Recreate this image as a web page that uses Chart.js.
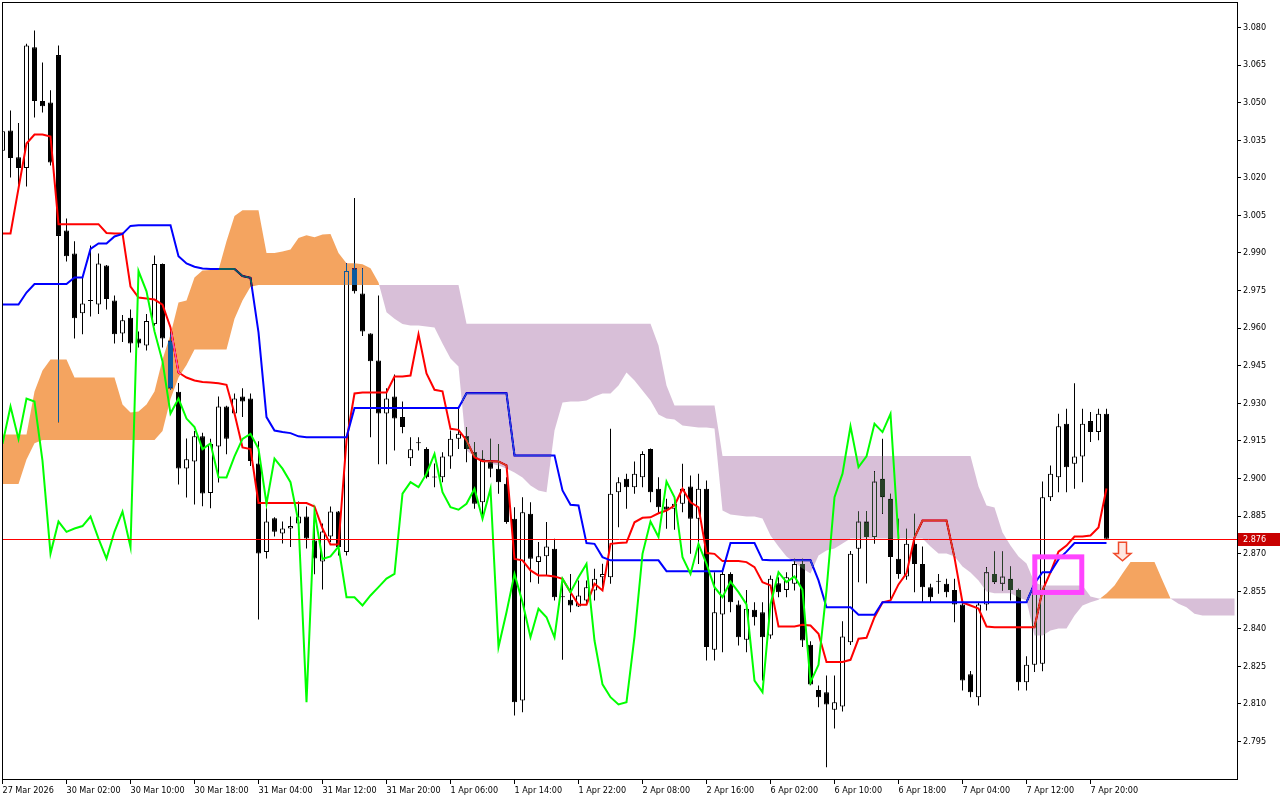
<!DOCTYPE html>
<html>
<head>
<meta charset="utf-8">
<title>Ichimoku H1</title>
<script src="https://cdn.jsdelivr.net/npm/chart.js@4.4.1/dist/chart.umd.min.js"></script>
<style>
    html, body { margin: 0; padding: 0; background: #ffffff; }
    canvas { display: block; }
</style>
</head>
<body>
<canvas id="ichimokuChart" width="1280" height="800"></canvas>
<script>
// H1 bars, oldest first (bar 0 = 27 Mar 2026)
const openPrices = [
    3.0308, 3.0389, 3.0282, 3.0239, 3.0721, 3.0507, 3.0501, 3.0690, 2.9990, 2.9898,
    2.9659, 2.9712, 2.9694, 2.9850, 2.9710, 2.9579, 2.9641, 2.9559, 2.9531, 2.9616,
    2.9856, 2.9551, 2.9346, 2.9040, 2.9068, 2.9168, 2.8942, 2.9128, 2.9287, 2.9259,
    2.9327, 2.9319, 2.9060, 2.8706, 2.8841, 2.8780, 2.8800, 2.8820, 2.8848, 2.8752,
    2.8668, 2.8768, 2.8868, 2.8706, 2.9839, 2.9738, 2.9579, 2.9471, 2.9259, 2.9327,
    2.9245, 2.9081, 2.9144, 2.9118, 2.9008, 2.9005, 2.9088, 2.9158, 2.9168, 2.9105,
    2.8905, 2.9065, 2.9039, 2.8979, 2.8839, 2.8114, 2.8859, 2.8666, 2.8689, 2.8719,
    2.8530, 2.8516, 2.8489, 2.8513, 2.8553, 2.8606, 2.8606, 2.8945, 2.8999, 2.8965,
    2.9005, 2.9118, 2.8959, 2.8888, 2.8879, 2.8899, 2.8968, 2.8839, 2.8959, 2.8316,
    2.8457, 2.8619, 2.8497, 2.8356, 2.8476, 2.8466, 2.8373, 2.8582, 2.8555, 2.8580,
    2.8659, 2.8336, 2.8156, 2.8147, 2.8077, 2.8090, 2.8346, 2.8719, 2.8828, 2.8766,
    2.8999, 2.8919, 2.8679, 2.8609, 2.8739, 2.8659, 2.8566, 2.8592, 2.8580, 2.8555,
    2.8497, 2.8218, 2.8127, 2.8497, 2.8619, 2.8580, 2.8600, 2.8555, 2.8187, 2.8256,
    2.8260, 2.8925, 2.9005, 2.9218, 2.9059, 2.9088, 2.9229, 2.9185, 2.9258
];
const highPrices = [
    3.0409, 3.0469, 3.0419, 3.0735, 3.0788, 3.0660, 3.0550, 3.0728, 3.0038, 2.9947,
    2.9802, 2.9930, 2.9898, 2.9852, 2.9730, 2.9652, 2.9674, 2.9587, 2.9656, 2.9890,
    2.9858, 2.9588, 2.9381, 2.9159, 2.9189, 2.9182, 2.9158, 2.9327, 2.9290, 2.9339,
    2.9360, 2.9339, 2.9148, 2.8881, 2.8845, 2.8828, 2.8848, 2.8908, 2.8888, 2.8840,
    2.8820, 2.8888, 2.8870, 2.9859, 3.0119, 2.9839, 2.9580, 2.9730, 2.9360, 2.9415,
    2.9307, 2.9164, 2.9164, 2.9125, 2.9060, 2.9105, 2.9191, 2.9278, 2.9205, 2.9145,
    2.9112, 2.9158, 2.9138, 2.9005, 2.8885, 2.8925, 2.8905, 2.8746, 2.8826, 2.8759,
    2.8600, 2.8619, 2.8593, 2.8593, 2.8640, 2.8660, 2.9198, 2.9005, 2.9019, 2.9068,
    2.9109, 2.9120, 2.9005, 2.8919, 2.8920, 2.9059, 2.9012, 2.9019, 2.8992, 2.8626,
    2.8640, 2.8626, 2.8513, 2.8555, 2.8506, 2.8506, 2.8613, 2.8606, 2.8626, 2.8679,
    2.8679, 2.8350, 2.8174, 2.8213, 2.8213, 2.8430, 2.8710, 2.8868, 2.8870, 2.9029,
    2.9158, 2.8939, 2.8839, 2.8799, 2.8859, 2.8728, 2.8580, 2.8619, 2.8600, 2.8600,
    2.8506, 2.8231, 2.8506, 2.8646, 2.8708, 2.8708, 2.8649, 2.8560, 2.8290, 2.8570,
    2.8988, 2.9052, 2.9258, 2.9278, 2.9380, 2.9278, 2.9265, 2.9278, 2.9278
];
const lowPrices = [
    3.0289, 3.0201, 3.0172, 3.0165, 3.0441, 3.0461, 3.0249, 2.9224, 2.9866, 2.9559,
    2.9576, 2.9646, 2.9656, 2.9674, 2.9539, 2.9545, 2.9503, 2.9523, 2.9511, 2.9610,
    2.9523, 2.9353, 2.8976, 2.8924, 2.8896, 2.8889, 2.8881, 2.8984, 2.9097, 2.9250,
    2.9245, 2.9050, 2.8437, 2.8680, 2.8768, 2.8740, 2.8726, 2.8774, 2.8720, 2.8618,
    2.8557, 2.8746, 2.8692, 2.8692, 2.9738, 2.9569, 2.9164, 2.9057, 2.9057, 2.9112,
    2.9180, 2.9050, 2.9112, 2.9000, 2.8965, 2.8985, 2.9039, 2.9118, 2.9065, 2.8879,
    2.8852, 2.9005, 2.8939, 2.8819, 2.8054, 2.8067, 2.8586, 2.8580, 2.8613, 2.8513,
    2.8276, 2.8466, 2.8487, 2.8501, 2.8513, 2.8566, 2.8580, 2.8805, 2.8879, 2.8939,
    2.8965, 2.8905, 2.8859, 2.8799, 2.8795, 2.8865, 2.8699, 2.8659, 2.8273, 2.8273,
    2.8306, 2.8466, 2.8333, 2.8306, 2.8413, 2.8193, 2.8360, 2.8526, 2.8526, 2.8553,
    2.8327, 2.8175, 2.8087, 2.7847, 2.8002, 2.8070, 2.8335, 2.8586, 2.8581, 2.8739,
    2.8859, 2.8513, 2.8600, 2.8596, 2.8546, 2.8506, 2.8506, 2.8540, 2.8526, 2.8426,
    2.8154, 2.8127, 2.8094, 2.8473, 2.8580, 2.8553, 2.8513, 2.8154, 2.8154, 2.8227,
    2.8230, 2.8910, 2.8945, 2.8945, 2.8959, 2.8985, 2.9145, 2.9152, 2.8759
];
const closePrices = [
    3.0386, 3.0279, 3.0239, 3.0728, 3.0507, 3.0486, 3.0261, 2.9968, 2.9887, 2.9639,
    2.9698, 2.9708, 2.9858, 2.9716, 2.9576, 2.9631, 2.9539, 2.9539, 2.9628, 2.9856,
    2.9559, 2.9359, 2.9040, 2.9077, 2.9168, 2.8940, 2.9138, 2.9287, 2.9158, 2.9319,
    2.9307, 2.9070, 2.8700, 2.8828, 2.8787, 2.8800, 2.8810, 2.8848, 2.8760, 2.8680,
    2.8788, 2.8868, 2.8726, 2.9828, 2.9747, 2.9587, 2.9468, 2.9259, 2.9319, 2.9239,
    2.9205, 2.9117, 2.9140, 2.9005, 2.9004, 2.9088, 2.9158, 2.9178, 2.9118, 2.8899,
    2.9079, 2.9039, 2.8985, 2.8826, 2.8107, 2.8865, 2.8679, 2.8689, 2.8728, 2.8526,
    2.8526, 2.8493, 2.8533, 2.8566, 2.8600, 2.8619, 2.8939, 2.8985, 2.8965, 2.9019,
    2.9098, 2.8945, 2.8885, 2.8875, 2.8899, 2.8959, 2.8839, 2.8959, 2.8327, 2.8466,
    2.8619, 2.8506, 2.8366, 2.8480, 2.8446, 2.8366, 2.8600, 2.8546, 2.8606, 2.8659,
    2.8353, 2.8178, 2.8127, 2.8098, 2.8107, 2.8369, 2.8699, 2.8828, 2.8766, 2.8988,
    2.8925, 2.8686, 2.8619, 2.8739, 2.8659, 2.8566, 2.8526, 2.8588, 2.8546, 2.8497,
    2.8193, 2.8147, 2.8497, 2.8626, 2.8586, 2.8609, 2.8555, 2.8187, 2.8256, 2.8553,
    2.8925, 2.9019, 2.9208, 2.9045, 2.9088, 2.9218, 2.9185, 2.9258, 2.8759
];

// Tenkan-sen (red) and Kijun-sen (blue), one value per bar
const tenkanLine = [
    2.9978, 2.9978, 3.0158, 3.0337, 3.0373, 3.0373, 3.0365, 3.0015, 3.0015, 3.0015,
    3.0015, 3.0015, 3.0015, 2.9980, 2.9978, 2.9978, 2.9766, 2.9722, 2.9718, 2.9714,
    2.9694, 2.9603, 2.9423, 2.9403, 2.9391, 2.9385, 2.9383, 2.9380, 2.9374, 2.9259,
    2.9124, 2.9117, 2.8902, 2.8902, 2.8902, 2.8902, 2.8902, 2.8902, 2.8902, 2.8888,
    2.8800, 2.8736, 2.8736, 2.9152, 2.9339, 2.9343, 2.9343, 2.9343, 2.9343, 2.9407,
    2.9407, 2.9411, 2.9575, 2.9419, 2.9354, 2.9348, 2.9198, 2.9194, 2.9152, 2.9085,
    2.9069, 2.9069, 2.9068, 2.9052, 2.8679, 2.8673, 2.8633, 2.8613, 2.8613, 2.8609,
    2.8599, 2.8546, 2.8496, 2.8496, 2.8580, 2.8553, 2.8739, 2.8742, 2.8744, 2.8825,
    2.8843, 2.8845, 2.8861, 2.8872, 2.8892, 2.8959, 2.8905, 2.8885, 2.8702, 2.8699,
    2.8670, 2.8670, 2.8670, 2.8666, 2.8646, 2.8586, 2.8573, 2.8409, 2.8409, 2.8409,
    2.8416, 2.8413, 2.8380, 2.8267, 2.8267, 2.8267, 2.8276, 2.8360, 2.8364, 2.8446,
    2.8505, 2.8513, 2.8577, 2.8621, 2.8764, 2.8832, 2.8832, 2.8832, 2.8832, 2.8684,
    2.8505, 2.8493, 2.8481, 2.8409, 2.8406, 2.8406, 2.8406, 2.8406, 2.8406, 2.8406,
    2.8553, 2.8625, 2.8708, 2.8732, 2.8768, 2.8768, 2.8772, 2.8804, 2.8960
];
const kijunLine = [
    2.9694, 2.9694, 2.9694, 2.9742, 2.9776, 2.9776, 2.9776, 2.9776, 2.9776, 2.9802,
    2.9802, 2.9916, 2.9938, 2.9938, 2.9966, 2.9976, 3.0008, 3.0011, 3.0011, 3.0011,
    3.0011, 3.0011, 2.9887, 2.9858, 2.9845, 2.9838, 2.9836, 2.9836, 2.9836, 2.9836,
    2.9808, 2.9801, 2.9583, 2.9245, 2.9191, 2.9185, 2.9181, 2.9168, 2.9164, 2.9164,
    2.9164, 2.9164, 2.9164, 2.9164, 2.9281, 2.9281, 2.9281, 2.9281, 2.9281, 2.9281,
    2.9281, 2.9281, 2.9281, 2.9281, 2.9281, 2.9281, 2.9281, 2.9281, 2.9340, 2.9340,
    2.9340, 2.9340, 2.9340, 2.9340, 2.9092, 2.9092, 2.9092, 2.9092, 2.9092, 2.9092,
    2.8952, 2.8895, 2.8892, 2.8742, 2.8739, 2.8686, 2.8673, 2.8673, 2.8673, 2.8673,
    2.8673, 2.8673, 2.8673, 2.8630, 2.8630, 2.8630, 2.8630, 2.8630, 2.8630, 2.8630,
    2.8630, 2.8742, 2.8742, 2.8742, 2.8742, 2.8675, 2.8673, 2.8673, 2.8673, 2.8673,
    2.8673, 2.8673, 2.8593, 2.8486, 2.8486, 2.8486, 2.8486, 2.8456, 2.8456, 2.8456,
    2.8506, 2.8506, 2.8506, 2.8506, 2.8506, 2.8506, 2.8506, 2.8506, 2.8506, 2.8506,
    2.8506, 2.8506, 2.8506, 2.8506, 2.8506, 2.8506, 2.8506, 2.8506, 2.8506, 2.8581,
    2.8626, 2.8626, 2.8677, 2.8708, 2.8742, 2.8742, 2.8742, 2.8742, 2.8742
];
// Chikou span (green), drawn 26 bars back
const chikouLine = [
    2.9138, 2.9287, 2.9158, 2.9319, 2.9307, 2.9070, 2.8700, 2.8828, 2.8787, 2.8800,
    2.8810, 2.8848, 2.8760, 2.8680, 2.8788, 2.8868, 2.8726, 2.9828, 2.9747, 2.9587,
    2.9468, 2.9259, 2.9319, 2.9239, 2.9205, 2.9117, 2.9140, 2.9005, 2.9004, 2.9088,
    2.9158, 2.9178, 2.9118, 2.8899, 2.9079, 2.9039, 2.8985, 2.8826, 2.8107, 2.8865,
    2.8679, 2.8689, 2.8728, 2.8526, 2.8526, 2.8493, 2.8533, 2.8566, 2.8600, 2.8619,
    2.8939, 2.8985, 2.8965, 2.9019, 2.9098, 2.8945, 2.8885, 2.8875, 2.8899, 2.8959,
    2.8839, 2.8959, 2.8327, 2.8466, 2.8619, 2.8506, 2.8366, 2.8480, 2.8446, 2.8366,
    2.8600, 2.8546, 2.8606, 2.8659, 2.8353, 2.8178, 2.8127, 2.8098, 2.8107, 2.8369,
    2.8699, 2.8828, 2.8766, 2.8988, 2.8925, 2.8686, 2.8619, 2.8739, 2.8659, 2.8566,
    2.8526, 2.8588, 2.8546, 2.8497, 2.8193, 2.8147, 2.8497, 2.8626, 2.8586, 2.8609,
    2.8555, 2.8187, 2.8256, 2.8553, 2.8925, 2.9019, 2.9208, 2.9045, 2.9088, 2.9218,
    2.9185, 2.9258, 2.8759
];
// Senkou spans (cloud), already shifted 26 bars forward
const senkouA = [
    2.9175, 2.9175, 2.9175, 2.9175, 2.9347, 2.9431, 2.9475, 2.9475, 2.9475, 2.9403,
    2.9403, 2.9403, 2.9403, 2.9403, 2.9403, 2.9295, 2.9263, 2.9267, 2.9295, 2.9347,
    2.9475, 2.9575, 2.9702, 2.9710, 2.9802, 2.9830, 2.9832, 2.9832, 2.9947, 3.0048,
    3.0071, 3.0071, 3.0071, 2.9900, 2.9900, 2.9906, 2.9914, 2.9960, 2.9971, 2.9963,
    2.9974, 2.9976, 2.9900, 2.9859, 2.9859, 2.9855, 2.9839, 2.9782, 2.9663, 2.9637,
    2.9616, 2.9611, 2.9611, 2.9607, 2.9603, 2.9539, 2.9479, 2.9447, 2.9112, 2.9088,
    2.9072, 2.9060, 2.9052, 2.9040, 2.9024, 2.9004, 2.8972, 2.8952, 2.8945, 2.9191,
    2.9303, 2.9307, 2.9307, 2.9311, 2.9327, 2.9339, 2.9339, 2.9371, 2.9423, 2.9391,
    2.9351, 2.9311, 2.9255, 2.9239, 2.9235, 2.9211, 2.9207, 2.9203, 2.9203, 2.9199,
    2.8872, 2.8856, 2.8852, 2.8848, 2.8848, 2.8840, 2.8772, 2.8728, 2.8688, 2.8665,
    2.8641, 2.8621, 2.8692, 2.8712, 2.8720, 2.8740, 2.8760, 2.8760, 2.8760, 2.8760,
    2.8760, 2.8760, 2.8760, 2.8760, 2.8760, 2.8760, 2.8728, 2.8700, 2.8700, 2.8688,
    2.8649, 2.8625, 2.8593, 2.8549, 2.8542, 2.8542, 2.8542, 2.8526, 2.8513, 2.8373,
    2.8373, 2.8393, 2.8401, 2.8401, 2.8453, 2.8493, 2.8506, 2.8516, 2.8541, 2.8573,
    2.8621, 2.8666, 2.8666, 2.8666, 2.8666, 2.8593, 2.8521, 2.8500, 2.8486, 2.8460,
    2.8453, 2.8453, 2.8453, 2.8453, 2.8453
];
const senkouB = [
    2.8978, 2.8978, 2.8978, 2.9076, 2.9140, 2.9153, 2.9153, 2.9153, 2.9153, 2.9153,
    2.9153, 2.9153, 2.9153, 2.9153, 2.9153, 2.9153, 2.9153, 2.9153, 2.9153, 2.9153,
    2.9189, 2.9317, 2.9403, 2.9453, 2.9515, 2.9515, 2.9515, 2.9515, 2.9515, 2.9637,
    2.9710, 2.9765, 2.9772, 2.9772, 2.9772, 2.9772, 2.9772, 2.9772, 2.9772, 2.9772,
    2.9772, 2.9772, 2.9772, 2.9772, 2.9772, 2.9772, 2.9772, 2.9772, 2.9772, 2.9772,
    2.9772, 2.9772, 2.9772, 2.9772, 2.9772, 2.9772, 2.9772, 2.9772, 2.9617, 2.9617,
    2.9617, 2.9617, 2.9617, 2.9617, 2.9617, 2.9617, 2.9617, 2.9617, 2.9617, 2.9617,
    2.9617, 2.9617, 2.9617, 2.9617, 2.9617, 2.9617, 2.9617, 2.9617, 2.9617, 2.9617,
    2.9617, 2.9617, 2.9531, 2.9371, 2.9291, 2.9291, 2.9291, 2.9291, 2.9291, 2.9291,
    2.9090, 2.9090, 2.9090, 2.9090, 2.9090, 2.9090, 2.9090, 2.9090, 2.9090, 2.9090,
    2.9090, 2.9090, 2.9090, 2.9090, 2.9090, 2.9090, 2.9090, 2.9090, 2.9090, 2.9090,
    2.9090, 2.9090, 2.9090, 2.9090, 2.9090, 2.9090, 2.9090, 2.9090, 2.9090, 2.9090,
    2.9090, 2.9090, 2.8968, 2.8892, 2.8884, 2.8784, 2.8732, 2.8688, 2.8661, 2.8585,
    2.8573, 2.8573, 2.8573, 2.8573, 2.8573, 2.8573, 2.8529, 2.8521, 2.8521, 2.8521,
    2.8521, 2.8521, 2.8521, 2.8521, 2.8521, 2.8521, 2.8521, 2.8521, 2.8521, 2.8521,
    2.8521, 2.8521, 2.8521, 2.8521, 2.8521
];

// time axis: one label every 8 bars
const timeLabels = [
    '27 Mar 2026', '30 Mar 02:00', '30 Mar 10:00', '30 Mar 18:00', '31 Mar 04:00',
    '31 Mar 12:00', '31 Mar 20:00', '1 Apr 06:00', '1 Apr 14:00', '1 Apr 22:00',
    '2 Apr 08:00', '2 Apr 16:00', '6 Apr 02:00', '6 Apr 10:00', '6 Apr 18:00',
    '7 Apr 04:00', '7 Apr 12:00', '7 Apr 20:00'
];
const priceTicks = [
    2.795, 2.810, 2.825, 2.840, 2.855, 2.870, 2.885, 2.900, 2.915, 2.930,
    2.945, 2.960, 2.975, 2.990, 3.005, 3.020, 3.035, 3.050, 3.065, 3.080
];
const lastPrice = 2.876;

// annotations, in bar / price units
const boxBars = [129.04, 134.91];
const boxPrices = [2.8687, 2.8545];
const arrowBar = 140;
const arrowPrices = [2.8745, 2.8671];

const BARS_PER_LABEL = 8;
const AXIS_FONT = { family: "'DejaVu Sans Condensed', 'DejaVu Sans', sans-serif", size: 9 };

document.addEventListener('DOMContentLoaded', () => {
    const ctx = document.getElementById('ichimokuChart').getContext('2d');

    const barIndex = closePrices.map((_, i) => i);
    const wickData = barIndex.map(i => ({ x: i, y: [lowPrices[i], highPrices[i]] }));
    const bodyData = barIndex.map(i => ({ x: i, y: [openPrices[i], closePrices[i]] }));
    const bodyColors = barIndex.map(i => closePrices[i] > openPrices[i] ? '#ffffff' : '#000000');
    const asPoints = arr => arr.map((v, i) => ({ x: i, y: v }));

    // no extra room for the outer tick labels, the frame sits at the canvas edge
    const noAxisPadding = axis => {
        axis.paddingTop = 0;
        axis.paddingBottom = 0;
        axis.paddingLeft = 0;
        axis.paddingRight = 0;
    };

    // cloud: filled in 'difference' mode, so candles and lines under it get inverted like in MT
    function drawCloud(chart) {
        const { ctx, chartArea, scales } = chart;
        const xs = scales.x, ys = scales.y;
        const upPath = new Path2D();
        const downPath = new Path2D();
        for (let i = 0; i < senkouA.length - 1; i++) {
            const x0 = xs.getPixelForValue(i), x1 = xs.getPixelForValue(i + 1);
            const a0 = ys.getPixelForValue(senkouA[i]), a1 = ys.getPixelForValue(senkouA[i + 1]);
            const b0 = ys.getPixelForValue(senkouB[i]), b1 = ys.getPixelForValue(senkouB[i + 1]);
            const d0 = senkouA[i] - senkouB[i], d1 = senkouA[i + 1] - senkouB[i + 1];
            if (d0 === 0 && d1 === 0) continue;
            if (d0 * d1 >= 0) {
                const p = (d0 + d1) > 0 ? upPath : downPath;
                p.moveTo(x0, a0); p.lineTo(x1, a1); p.lineTo(x1, b1); p.lineTo(x0, b0); p.closePath();
            } else {
                const t = d0 / (d0 - d1);
                const xm = x0 + t * (x1 - x0), ym = a0 + t * (a1 - a0);
                const p0 = d0 > 0 ? upPath : downPath;
                const p1 = d1 > 0 ? upPath : downPath;
                p0.moveTo(x0, a0); p0.lineTo(xm, ym); p0.lineTo(x0, b0); p0.closePath();
                p1.moveTo(xm, ym); p1.lineTo(x1, a1); p1.lineTo(x1, b1); p1.closePath();
            }
        }
        ctx.save();
        ctx.beginPath();
        ctx.rect(chartArea.left, chartArea.top, chartArea.right - chartArea.left, chartArea.bottom - chartArea.top);
        ctx.clip();
        ctx.globalCompositeOperation = 'difference';
        ctx.fillStyle = 'rgb(11, 91, 159)';   // -> sandy brown on white
        ctx.fill(upPath);
        ctx.fillStyle = 'rgb(39, 64, 39)';    // -> thistle on white
        ctx.fill(downPath);
        ctx.restore();
    }

    const ichimokuPlugin = {
        id: 'ichimokuPlugin',
        beforeDraw(chart) {
            const c = chart.ctx;
            c.save();
            c.fillStyle = '#ffffff';
            c.fillRect(0, 0, chart.width, chart.height);
            c.restore();
        },
        afterDatasetDraw(chart, args) {
            if (chart.data.datasets[args.index].label === 'Kijun') {
                drawCloud(chart);
            }
        },
        afterDatasetsDraw(chart) {
            const { ctx, chartArea, scales } = chart;
            const xs = scales.x, ys = scales.y;
            ctx.save();
            ctx.beginPath();
            ctx.rect(chartArea.left, chartArea.top, chartArea.right - chartArea.left, chartArea.bottom - chartArea.top);
            ctx.clip();

            // bid line
            const py = Math.round(ys.getPixelForValue(lastPrice)) + 0.5;
            ctx.globalCompositeOperation = 'source-over';
            ctx.strokeStyle = '#ff0000';
            ctx.lineWidth = 1;
            ctx.beginPath();
            ctx.moveTo(chartArea.left, py);
            ctx.lineTo(chartArea.right, py);
            ctx.stroke();

            // magenta box
            const bx0 = xs.getPixelForValue(boxBars[0]), bx1 = xs.getPixelForValue(boxBars[1]);
            const by0 = ys.getPixelForValue(boxPrices[0]), by1 = ys.getPixelForValue(boxPrices[1]);
            ctx.strokeStyle = '#ff44ff';
            ctx.lineWidth = 5;
            ctx.strokeRect(bx0, by0, bx1 - bx0, by1 - by0);

            // down arrow
            const ax = xs.getPixelForValue(arrowBar);
            const aTop = ys.getPixelForValue(arrowPrices[0]);
            const aTip = ys.getPixelForValue(arrowPrices[1]);
            const neck = aTop + (aTip - aTop) * 0.6;
            ctx.beginPath();
            ctx.moveTo(ax - 4, aTop);
            ctx.lineTo(ax + 4, aTop);
            ctx.lineTo(ax + 4, neck);
            ctx.lineTo(ax + 8.5, neck);
            ctx.lineTo(ax, aTip);
            ctx.lineTo(ax - 8.5, neck);
            ctx.lineTo(ax - 4, neck);
            ctx.closePath();
            ctx.fillStyle = '#ffe6e0';
            ctx.fill();
            ctx.strokeStyle = '#f04a2a';
            ctx.lineWidth = 1.5;
            ctx.stroke();
            ctx.restore();
        },
        afterDraw(chart) {
            const { ctx, chartArea, scales } = chart;
            ctx.save();
            ctx.strokeStyle = '#000000';
            ctx.lineWidth = 1;
            ctx.strokeRect(chartArea.left + 0.5, chartArea.top + 0.5,
                chartArea.right - chartArea.left, chartArea.bottom - chartArea.top);

            // price tag on the axis
            const py = Math.round(scales.y.getPixelForValue(lastPrice));
            ctx.fillStyle = '#c80000';
            ctx.fillRect(chartArea.right + 1, py - 6, chart.width - chartArea.right - 1, 13);
            ctx.fillStyle = '#ffffff';
            ctx.font = AXIS_FONT.size + 'px ' + AXIS_FONT.family;
            ctx.textBaseline = 'middle';
            ctx.textAlign = 'left';
            ctx.fillText(lastPrice.toFixed(3), chartArea.right + 6, py + 0.5);
            ctx.restore();
        }
    };

    new Chart(ctx, {
        type: 'bar',
        data: {
            datasets: [
                {
                    label: 'Wicks',
                    data: wickData,
                    backgroundColor: '#000000',
                    borderWidth: 0,
                    barThickness: 1,
                    grouped: false,
                    inflateAmount: 0,
                    order: 6
                },
                {
                    label: 'Bodies',
                    data: bodyData,
                    backgroundColor: bodyColors,
                    borderColor: '#000000',
                    borderWidth: 1,
                    borderSkipped: false,
                    barThickness: 5,
                    grouped: false,
                    inflateAmount: 0,
                    order: 5
                },
                {
                    type: 'line',
                    label: 'Tenkan',
                    data: asPoints(tenkanLine),
                    borderColor: '#ff0000',
                    borderWidth: 2,
                    pointRadius: 0,
                    tension: 0,
                    fill: false,
                    order: 4
                },
                {
                    type: 'line',
                    label: 'Kijun',
                    data: asPoints(kijunLine),
                    borderColor: '#0000ff',
                    borderWidth: 2,
                    pointRadius: 0,
                    tension: 0,
                    fill: false,
                    order: 3
                },
                {
                    type: 'line',
                    label: 'Chikou',
                    data: asPoints(chikouLine),
                    borderColor: '#00ff00',
                    borderWidth: 2,
                    pointRadius: 0,
                    tension: 0,
                    fill: false,
                    order: 2
                }
            ]
        },
        options: {
            responsive: false,
            devicePixelRatio: 1,
            animation: false,
            events: [],
            layout: { padding: { left: 2, top: 2, right: 0, bottom: 0 } },
            plugins: {
                legend: { display: false },
                tooltip: { enabled: false },
                title: { display: false }
            },
            scales: {
                x: {
                    type: 'linear',
                    position: 'bottom',
                    offset: false,
                    min: -0.0625,
                    max: 154.3125,
                    border: { display: false },
                    grid: { drawOnChartArea: false, drawTicks: true, tickLength: 5, color: '#000000', offset: false },
                    afterBuildTicks: axis => {
                        axis.ticks = timeLabels.map((_, i) => ({ value: i * BARS_PER_LABEL }));
                    },
                    afterFit: axis => {
                        axis.height = 21;
                        noAxisPadding(axis);
                    },
                    ticks: {
                        autoSkip: false,
                        maxRotation: 0,
                        minRotation: 0,
                        align: 'start',
                        padding: 1,
                        color: '#000000',
                        font: AXIS_FONT,
                        callback: v => timeLabels[Math.round(v / BARS_PER_LABEL)]
                    }
                },
                y: {
                    type: 'linear',
                    position: 'right',
                    min: 2.780032,
                    max: 3.090179,
                    border: { display: false },
                    grid: { drawOnChartArea: false, drawTicks: true, tickLength: 4, color: '#000000' },
                    afterBuildTicks: axis => {
                        axis.ticks = priceTicks.map(v => ({ value: v }));
                    },
                    afterFit: axis => {
                        axis.width = 43;
                        noAxisPadding(axis);
                    },
                    ticks: {
                        padding: 2,
                        color: '#000000',
                        font: AXIS_FONT,
                        callback: v => Number(v).toFixed(3)
                    }
                }
            }
        },
        plugins: [ichimokuPlugin]
    });
});
</script>
</body>
</html>
